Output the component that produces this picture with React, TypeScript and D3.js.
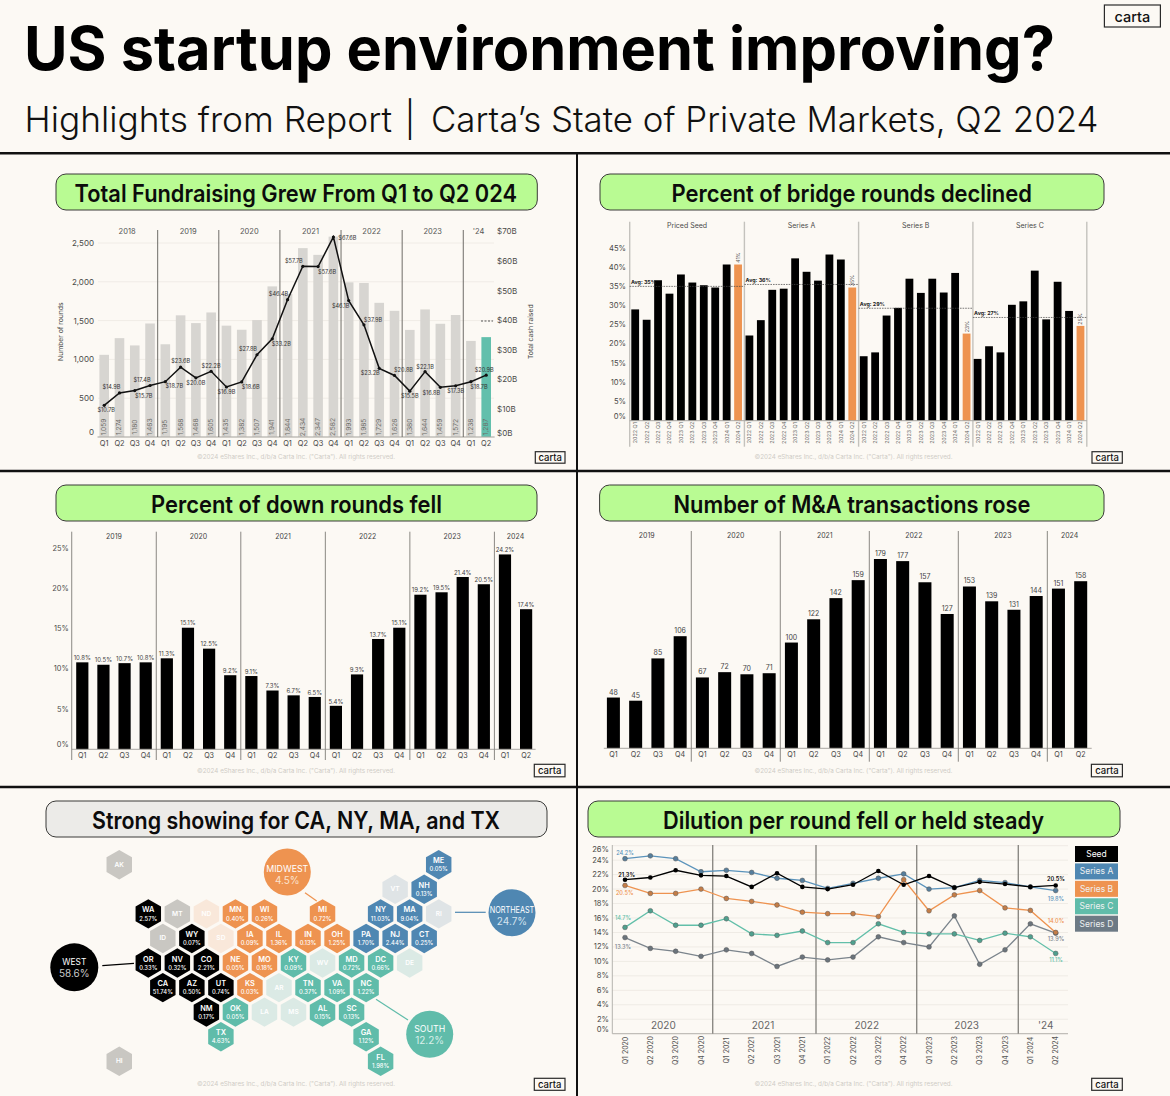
import React from "react";
import * as d3 from "d3";

// ---------- data ----------
const quarters = ["Q1", "Q2", "Q3", "Q4"];
const fundYears = ["2018", "2019", "2020", "2021", "2022", "2023", "'24"];
const fundRounds = [1059, 1274, 1180, 1463, 1195, 1568, 1468, 1605, 1435, 1382, 1507, 1941, 1844, 2434, 2347, 2582, 1993, 1985, 1729, 1626, 1380, 1644, 1459, 1572, 1238, 1287];
const fundCash = [10.7, 14.9, 15.7, 17.4, 18.7, 23.6, 20.0, 22.2, 16.9, 18.6, 27.8, 33.2, 46.4, 57.7, 57.6, 67.6, 46.1, 37.9, 23.2, 20.8, 15.5, 22.1, 16.8, 17.3, 18.7, 20.9];
const fundLeftTicks = [0, 500, 1000, 1500, 2000, 2500];
const fundRightTicks = [0, 10, 20, 30, 40, 50, 60, 70];

const bridgeQuarters = ["2022 Q1", "2022 Q2", "2022 Q3", "2022 Q4", "2023 Q1", "2023 Q2", "2023 Q3", "2023 Q4", "2024 Q1", "2024 Q2"];
const bridgeStages = ["Priced Seed", "Series A", "Series B", "Series C"];
const bridgeSeed = [29, 26.3, 36.6, 33.1, 38.1, 36, 35.3, 34.7, 40.7, 40.7];
const bridgeA = [22.2, 26.2, 34.1, 34.4, 42.3, 38.8, 36.5, 43.3, 42, 34.7];
const bridgeB = [16.8, 17.8, 27.4, 29.4, 37, 33.3, 37, 33.4, 38.5, 22.7];
const bridgeC = [16.1, 19.4, 17.8, 30.2, 31.1, 39.1, 26.4, 36.2, 28.6, 24.7];
const bridgeAvg = [35, 35.5, 29.3, 26.9];
const bridgeAvgLabels = ["Avg: 35%", "Avg: 36%", "Avg: 29%", "Avg: 27%"];
const bridgeLastLabels = ["41%", "35%", "23%", "25%"];
const bridgeTicks = [0, 5, 10, 15, 20, 25, 30, 35, 40, 45];

const panelYears = ["2019", "2020", "2021", "2022", "2023", "2024"];
const downRounds = [10.8, 10.5, 10.7, 10.8, 11.3, 15.1, 12.5, 9.2, 9.1, 7.3, 6.7, 6.5, 5.4, 9.3, 13.7, 15.1, 19.2, 19.5, 21.4, 20.5, 24.2, 17.4];
const downTicks = [0, 5, 10, 15, 20, 25];
const maDeals = [48, 45, 85, 106, 67, 72, 70, 71, 100, 122, 142, 159, 179, 177, 157, 127, 153, 139, 131, 144, 151, 158];

const hexRows = [
  "AK . . . . . . . . . . ME",
  ". . . . . . . . . VT NH",
  ". WA MT ND MN WI . MI . NY MA RI",
  ". ID WY SD IA IL IN OH PA NJ CT",
  ". OR NV CO NE MO KY WV MD DC DE",
  ". CA AZ UT KS AR TN VA NC",
  ". . . NM OK LA MS AL SC",
  ". . . TX . . . . GA",
  "HI . . . . . . . . FL",
];
const westStates = ["WA", "WY", "OR", "NV", "CO", "CA", "AZ", "UT", "NM"];
const midwestStates = ["MN", "WI", "MI", "IA", "IL", "IN", "OH", "NE", "MO", "KS"];
const southStates = ["KY", "MD", "DC", "TN", "VA", "NC", "OK", "AL", "SC", "TX", "GA", "FL"];
const northeastStates = ["ME", "NH", "NY", "MA", "PA", "NJ", "CT"];
const fadedWest = ["MT", "ID", "AK", "HI"];
const fadedMidwest = ["ND", "SD"];
const fadedSouth = ["WV", "DE", "AR", "LA", "MS"];
const fadedNortheast = ["VT", "RI"];
const stateShare: Record<string, string> = {
  WA: "2.57%", WY: "0.07%", OR: "0.33%", NV: "0.32%", CO: "2.21%", CA: "51.74%", AZ: "0.50%", UT: "0.74%", NM: "0.17%",
  MN: "0.40%", WI: "0.26%", MI: "0.72%", IA: "0.09%", IL: "1.36%", IN: "0.13%", OH: "1.25%", NE: "0.05%", MO: "0.18%", KS: "0.03%",
  KY: "0.09%", MD: "0.72%", DC: "0.66%", TN: "0.37%", VA: "1.09%", NC: "1.22%", OK: "0.05%", AL: "0.15%", SC: "0.13%", TX: "4.63%", GA: "1.12%", FL: "1.98%",
  ME: "0.05%", NH: "0.13%", NY: "11.03%", MA: "9.04%", PA: "1.70%", NJ: "2.44%", CT: "0.25%",
};
const regionNames = ["WEST", "MIDWEST", "NORTHEAST", "SOUTH"];
const regionShares = ["58.6%", "4.5%", "24.7%", "12.2%"];

const dilutionQuarters = ["Q1 2020", "Q2 2020", "Q3 2020", "Q4 2020", "Q1 2021", "Q2 2021", "Q3 2021", "Q4 2021", "Q1 2022", "Q2 2022", "Q3 2022", "Q4 2022", "Q1 2023", "Q2 2023", "Q3 2023", "Q4 2023", "Q1 2024", "Q2 2024"];
const dilutionSeed = [21.3, 21.6, 22.6, 21.9, 21.8, 20.3, 22.2, 20.3, 20.0, 20.6, 22.5, 20.6, 21.8, 20.2, 21.0, 20.7, 20.3, 20.5];
const dilutionA = [24.2, 24.6, 24.2, 22.4, 22.6, 22.3, 21.5, 21.2, 20.1, 20.8, 21.5, 22.1, 20.0, 20.2, 21.2, 20.9, 20.3, 19.8];
const dilutionB = [20.5, 19.4, 19.4, 20, 18.7, 18.3, 17.8, 16.8, 16.6, 16.6, 16.2, 21.3, 17, 19.2, 19.8, 17.4, 17.05, 14.0];
const dilutionC = [14.7, 17, 15, 15, 15.9, 13.8, 13.6, 14.2, 12.6, 12.6, 15.2, 14, 13.8, 13.8, 12.9, 13.9, 13.4, 11.1];
const dilutionD = [13.3, 11.8, 11.4, 10.7, 11.6, 11.1, 9.3, 10.6, 10.2, 10.6, 13.4, 12.6, 12, 16.3, 9.6, 11.6, 15.2, 13.9];
const dilutionNames = ["Seed", "Series A", "Series B", "Series C", "Series D"];
const dilutionTicks = d3.range(0, 27, 2);
const dilutionYears = ["2020", "2021", "2022", "2023", "'24"];

// ---------- style ----------
const FONT = "Inter, 'Noto Sans', sans-serif";
const BG = "#fcf9f4";
const GREEN = "#b9fb93";
const ORANGE = "#ee9350";
const TEAL = "#60bcaa";
const BLUE = "#4f87b2";
const SLATE = "#6d7a85";
const LABEL = "#4a4a48";

const T = ({ x, y, s = 8, c = LABEL, w = 400, a = "middle", len, rot, children }: any) => (
  <text
    x={x}
    y={y}
    fontSize={s}
    fill={c}
    fontWeight={w}
    fontFamily={FONT}
    textAnchor={a}
    dominantBaseline="central"
    textLength={len}
    lengthAdjust={len ? "spacingAndGlyphs" : undefined}
    transform={rot ? `rotate(${rot} ${x} ${y})` : undefined}
  >
    {children}
  </text>
);

const Pill = ({ x0, x1, y0, text, fill = GREEN, tx0, tx1 }: any) => (
  <g>
    <rect x={x0} y={y0} width={x1 - x0} height={36} rx={10} fill={fill} stroke="#3a3a38" strokeWidth={1} />
    <T x={tx0} y={y0 + 19} s={24} w={600} c="#0c0c0c" a="start" len={tx1 - tx0}>{text}</T>
  </g>
);

const Logo = ({ x0, x1, y0, h, s = 9.5 }: any) => (
  <g>
    <rect x={x0} y={y0} width={x1 - x0} height={h} fill={BG} stroke="#2a2a2a" strokeWidth={1.2} />
    <T x={(x0 + x1) / 2} y={y0 + h / 2} s={s} c="#111" w={500}>carta</T>
  </g>
);

const Copy = ({ x, y }: any) => (
  <T x={x} y={y} s={6.3} c="#cfccc6">©2024 eShares Inc., d/b/a Carta Inc. ("Carta"). All rights reserved.</T>
);

const VLines = ({ xs, y0, y1, c = "#77756f", w = 1 }: any) => (
  <g>{xs.map((x: number, i: number) => <line key={i} x1={x} x2={x} y1={y0} y2={y1} stroke={c} strokeWidth={w} />)}</g>
);

// ---------- panel 1 ----------
function Fundraising() {
  const idx = fundRounds.map((_, i) => i);
  const x = d3.scaleLinear().domain([0, 25]).range([104.2, 486.2]);
  const yL = d3.scaleLinear().domain([0, 2500]).range([437, 243]);
  const yR = d3.scaleLinear().domain([0, 70]).range([437, 229.9]);
  const line = d3.line<number>().x((i) => x(i)).y((i) => yR(fundCash[i]));
  const offs = [[2, 5], [-8, -5.7], [9, 5.3], [-8, -5.7], [9, 4.7], [0, -5.7], [0, 5], [0, -5], [0, 5], [9, 5], [-9, -5.3], [9, 5], [-9, -5.7], [-9, -5.3], [9, 5], [14, 1], [-8, 5.7], [9, -5], [-9, 5], [9, -5.3], [0, 5], [0, -5], [-9, 5.3], [0, 4.7], [8, 5], [-2, -5.3]];
  const seps = [3.5, 7.5, 11.5, 15.5, 19.5, 23.5].map((i) => x(i));
  const yearCenters = [1.5, 5.5, 9.5, 13.5, 17.5, 21.5, 24.5].map((i) => x(i));
  return (
    <g>
      <Pill x0={56} x1={537.3} y0={174} text="Total Fundraising Grew From Q1 to Q2 024" tx0={74.6} tx1={517} />
      {fundLeftTicks.map((t) => <line key={t} x1={98} x2={494} y1={yL(t)} y2={yL(t)} stroke="#f0ece6" />)}
      {idx.map((i) => (
        <rect key={i} x={x(i) - 4.8} width={9.6} y={yL(fundRounds[i])} height={yL(0) - yL(fundRounds[i])} fill={i === 25 ? "#62bfac" : "#d7d5d1"} />
      ))}
      {idx.map((i) => <T key={i} x={x(i)} y={427} s={6.6} c="#6d6c68" rot={-90}>{d3.format(",")(fundRounds[i])}</T>)}
      <line x1={97.5} x2={494.7} y1={437} y2={437} stroke="#a9a7a2" strokeWidth={1} />
      <VLines xs={seps} y0={230} y1={437} c="#6f6d68" w={1} />
      {fundLeftTicks.map((t) => <T key={t} x={94} y={t === 0 ? 432 : yL(t)} s={8} a="end">{d3.format(",")(t)}</T>)}
      {fundRightTicks.map((t) => <T key={t} x={497} y={t === 0 ? 432.5 : yR(t) + 1.5} s={8} a="start">{`$${t}B`}</T>)}
      {fundYears.map((l, i) => <T key={l} x={yearCenters[i]} y={231} s={7.5} c="#555">{l}</T>)}
      <T x={61} y={331.7} s={6.8} rot={-90}>Number of rounds</T>
      <T x={531} y={331.7} s={6.8} rot={-90}>Total cash raised</T>
      <line x1={481} x2={493} y1={321} y2={321} stroke="#555" strokeWidth={1.2} strokeDasharray="2 1.5" />
      <path d={line(idx) ?? ""} fill="none" stroke="#111" strokeWidth={1.5} />
      {idx.map((i) => <circle key={i} cx={x(i)} cy={yR(fundCash[i])} r={1.6} fill="#111" />)}
      {idx.map((i) => (
        <T key={i} x={x(i) + offs[i][0]} y={yR(fundCash[i]) + offs[i][1]} s={5.6} c="#333">{`$${fundCash[i].toFixed(1)}B`}</T>
      ))}
      {idx.map((i) => <T key={i} x={x(i)} y={443.5} s={7.4} c="#444">{quarters[i % 4]}</T>)}
      <Copy x={296} y={457.3} />
      <Logo x0={535.3} x1={565} y0={451.7} h={11.5} />
    </g>
  );
}

// ---------- panel 2 ----------
function Bridge() {
  const groups = [bridgeSeed, bridgeA, bridgeB, bridgeC];
  const y = d3.scaleLinear().domain([0, 45]).range([420.7, 248]);
  const step = 11.43;
  const starts = [635.2, 749.4, 863.7, 977.6];
  const seps = [629.7, 744.4, 858.6, 972.9, 1086.8];
  return (
    <g>
      <Pill x0={600} x1={1104} y0={174} text="Percent of bridge rounds declined" tx0={671.6} tx1={1032} />
      <VLines xs={seps} y0={221.7} y1={446.7} c="#c4c2bd" w={1.4} />
      {bridgeTicks.map((t) => <T key={t} x={626} y={t === 0 ? 416 : y(t)} s={7.6} a="end">{t + "%"}</T>)}
      {bridgeStages.map((l, i) => <T key={l} x={(seps[i] + seps[i + 1]) / 2} y={225.7} s={7}>{l}</T>)}
      {groups.map((vals, g) => (
        <g key={g}>
          {vals.map((v, i) => (
            <rect key={i} x={starts[g] + i * step - 3.9} width={7.8} y={y(v)} height={y(0) - y(v)} fill={i === 9 ? ORANGE : "#000"} />
          ))}
          {bridgeQuarters.map((q, i) => <T key={q} x={starts[g] + i * step} y={432.7} s={5.4} c="#666" rot={-90}>{q}</T>)}
          <line x1={seps[g]} x2={seps[g + 1]} y1={y(bridgeAvg[g])} y2={y(bridgeAvg[g])} stroke="#444" strokeWidth={0.7} strokeDasharray="1.6 1" />
          <T x={seps[g] + 1.2} y={y(bridgeAvg[g]) - 4} s={5.3} c="#222" w={700} a="start">{bridgeAvgLabels[g]}</T>
          <T x={starts[g] + 9 * step} y={y(vals[9]) - 7} s={5.2} c="#555" rot={-90}>{bridgeLastLabels[g]}</T>
        </g>
      ))}
      <line x1={629.7} x2={1086.8} y1={420.7} y2={420.7} stroke="#aaa8a3" strokeWidth={1} />
      <Copy x={853.5} y={457.3} />
      <Logo x0={1092} x1={1122.3} y0={451.7} h={11.5} />
    </g>
  );
}

// ---------- panel 3 ----------
function DownRounds() {
  const x = d3.scaleLinear().domain([0, 21]).range([82.3, 526.1]);
  const y = d3.scaleLinear().domain([0, 25]).range([749.3, 548]);
  const seps = [-0.5, 3.5, 7.5, 11.5, 15.5, 19.5].map((i) => x(i));
  const centers = [1.5, 5.5, 9.5, 13.5, 17.5, 20.5].map((i) => x(i));
  return (
    <g>
      <Pill x0={56} x1={537} y0={485} text="Percent of down rounds fell" tx0={151} tx1={442} />
      {downRounds.map((v, i) => (
        <g key={i}>
          <rect x={x(i) - 6.1} width={12.2} y={y(v)} height={y(0) - y(v)} fill="#000" />
          <T x={x(i)} y={y(v) - 4.8} s={6} c="#444">{v.toFixed(1) + "%"}</T>
          <T x={x(i)} y={755.7} s={7.2} c="#444">{quarters[i % 4]}</T>
        </g>
      ))}
      <line x1={72} x2={535.6} y1={749.3} y2={749.3} stroke="#a9a7a2" />
      <VLines xs={seps} y0={531.7} y1={760} c="#8a8883" w={1} />
      {downTicks.map((t) => <T key={t} x={68.7} y={t === 0 ? 744.3 : y(t)} s={7.4} a="end">{t + "%"}</T>)}
      {panelYears.map((l, i) => <T key={l} x={centers[i]} y={536} s={7} c="#444">{l}</T>)}
      <Copy x={296} y={771} />
      <Logo x0={534.3} x1={565} y0={764.3} h={12.5} />
    </g>
  );
}

// ---------- panel 4 ----------
function Deals() {
  const x = d3.scaleLinear().domain([0, 21]).range([613.4, 1080.7]);
  const y = d3.scaleLinear().domain([0, 179]).range([748.3, 559]);
  const seps = [3.5, 7.5, 11.5, 15.5, 19.5].map((i) => x(i));
  const centers = [1.5, 5.5, 9.5, 13.5, 17.5, 20.5].map((i) => x(i));
  return (
    <g>
      <Pill x0={599.6} x1={1104} y0={485} text="Number of M&A transactions rose" tx0={673.5} tx1={1030.5} />
      {maDeals.map((v, i) => (
        <g key={i}>
          <rect x={x(i) - 6.5} width={13} y={y(v)} height={y(0) - y(v)} fill="#000" />
          <T x={x(i)} y={y(v) - 5.5} s={7} c="#444">{v}</T>
          <T x={x(i)} y={754.8} s={7.2} c="#444">{quarters[i % 4]}</T>
        </g>
      ))}
      <line x1={603.8} x2={1091.7} y1={748.3} y2={748.3} stroke="#a9a7a2" />
      <VLines xs={seps} y0={531} y1={761.7} c="#8a8883" w={1} />
      {panelYears.map((l, i) => <T key={l} x={centers[i]} y={535.3} s={7} c="#444">{l}</T>)}
      <Copy x={853.4} y={771} />
      <Logo x0={1091.4} x1={1122.4} y0={764.3} h={12.5} />
    </g>
  );
}

// ---------- panel 5 ----------
const hexPath = (cx: number, cy: number, R: number) =>
  (d3.line()(d3.range(6).map((k) => {
    const a = (Math.PI / 3) * k;
    return [cx + R * Math.sin(a), cy - R * Math.cos(a)] as [number, number];
  })) ?? "") + "Z";

function Hexes() {
  const qx = d3.scaleLinear().domain([0, 20]).range([148.3, 438.7]);
  const ry = d3.scaleLinear().domain([0, 8]).range([864.7, 1061.3]);
  const fill = (s: string) => {
    if (westStates.includes(s)) return "#000";
    if (midwestStates.includes(s)) return ORANGE;
    if (southStates.includes(s)) return TEAL;
    if (northeastStates.includes(s)) return BLUE;
    if (fadedWest.includes(s)) return "#c9c7c2";
    if (fadedMidwest.includes(s)) return "#f9e8da";
    if (fadedSouth.includes(s)) return "#dbeae5";
    if (fadedNortheast.includes(s)) return "#dfe4e6";
    return "#ccc";
  };
  const cells = hexRows.flatMap((row, r) =>
    row.split(" ").flatMap((s, i) => (s === "." ? [] : [{ s, q: (r % 2 === 0 ? -2 : -1) + 2 * i, r }]))
  );
  const regionPos = [[74.3, 967.3, 24], [287.3, 872, 23.5], [512, 912.7, 23.5], [429.7, 1034.3, 23.5]];
  const regionFill = ["#000", ORANGE, BLUE, TEAL];
  const regionVal = ["#c9c9c9", "#fbe3cf", "#d5e4ef", "#d7efe9"];
  const regionNameDy = [-5.6, -3.7, -3, -5.6];
  const regionValDy = [6, 8, 8, 6];
  const regionNameLen = [24, 42, 44.5, 31];
  const links = [[102.3, 965.7, 134, 963.3], [305, 892.7, 316.7, 901], [455, 912.3, 485.7, 912.3], [376, 999.3, 408, 1020]];
  return (
    <g>
      <Pill x0={46} x1={547} y0={801} text="Strong showing for CA, NY, MA, and TX" fill="#ecebe8" tx0={92} tx1={500} />
      {links.map((l, i) => <line key={i} x1={l[0]} y1={l[1]} x2={l[2]} y2={l[3]} stroke={regionFill[i]} strokeWidth={1.2} />)}
      {cells.map(({ s, q, r }) => {
        const cx = qx(q), cy = ry(r);
        const hasVal = stateShare[s] !== undefined;
        return (
          <g key={s}>
            <path d={hexPath(cx, cy, 14.7)} fill={fill(s)} />
            <T x={cx} y={hasVal ? cy - 4 : cy} s={hasVal ? 7.4 : 6.6} c="#fff" w={600}>{s}</T>
            {hasVal && <T x={cx} y={cy + 4.2} s={5.8} c="#fff" w={500}>{stateShare[s]}</T>}
          </g>
        );
      })}
      {regionNames.map((n, i) => (
        <g key={n}>
          <circle cx={regionPos[i][0]} cy={regionPos[i][1]} r={regionPos[i][2]} fill={regionFill[i]} />
          <T x={regionPos[i][0]} y={regionPos[i][1] + regionNameDy[i]} s={9} c="#fff" len={regionNameLen[i]}>{n}</T>
          <T x={regionPos[i][0]} y={regionPos[i][1] + regionValDy[i]} s={10} c={regionVal[i]}>{regionShares[i]}</T>
        </g>
      ))}
      <Copy x={296} y={1084.3} />
      <Logo x0={534.3} x1={565} y0={1078.3} h={12} />
    </g>
  );
}

// ---------- panel 6 ----------
function Dilution() {
  const series = [dilutionSeed, dilutionA, dilutionB, dilutionC, dilutionD];
  const colors = ["#000", "#5b93bb", ORANGE, "#62bfa9", "#7b848c"];
  const dots = ["#000", "#567e9c", "#c47d47", "#4fa08e", "#6b747c"];
  const legendFill = ["#000", BLUE, ORANGE, TEAL, SLATE];
  const x = d3.scalePoint<string>().domain(dilutionQuarters).range([625, 1055.7]);
  const y = d3.scaleLinear().domain([0, 26]).range([1033.7, 845.7]);
  const seps = [712.7, 816, 916.7, 1018.3];
  const yearX = [663.3, 763, 866.7, 966.7, 1045.7];
  const firstLabels = [[0, 875, 1.7], [1, 852.7, 0], [2, 892.7, -0.3], [3, 917.7, -2], [4, 946.7, -2]];
  const lastLabels = [[0, 879.3], [1, 898.7], [2, 920.7], [3, 959.7], [4, 939]];
  const lineOf = (vals: number[]) =>
    d3.line<string>().x((q) => x(q) as number).y((q) => y(vals[dilutionQuarters.indexOf(q)]))(dilutionQuarters) ?? "";
  const legendY = d3.scaleLinear().domain([0, 4]).range([846, 915.7]);
  return (
    <g>
      <Pill x0={588} x1={1120} y0={801} text="Dilution per round fell or held steady" tx0={663} tx1={1044} />
      {dilutionTicks.map((t) => <line key={t} x1={612.3} x2={1068} y1={y(t)} y2={y(t)} stroke="#efebe5" />)}
      <line x1={612.3} x2={612.3} y1={845} y2={1033.7} stroke="#b5b3ae" />
      <line x1={612.3} x2={1068} y1={1033.7} y2={1033.7} stroke="#b5b3ae" />
      <VLines xs={seps} y0={845} y1={1033.7} c="#8c8a85" w={1.4} />
      {dilutionTicks.map((t) => (
        <T key={t} x={609} y={t === 0 ? 1029 : t === 26 ? 849.3 : y(t)} s={7.6} a="end">{t + "%"}</T>
      ))}
      {[4, 3, 2, 1, 0].map((k) => (
        <g key={k}>
          <path d={lineOf(series[k])} fill="none" stroke={colors[k]} strokeWidth={1.3} />
          {dilutionQuarters.map((q, i) => (
            <circle key={q} cx={x(q)} cy={y(series[k][i])} r={k === 0 ? 2.3 : 2.4} fill={dots[k]} stroke={k === 0 ? "none" : "#555"} strokeWidth={0.5} />
          ))}
        </g>
      ))}
      {firstLabels.map(([k, ly, dx]) => (
        <T key={k} x={625 + dx} y={ly} s={5.6} c={colors[k]} w={k === 0 ? 600 : 500}>{series[k][0].toFixed(1) + "%"}</T>
      ))}
      {lastLabels.map(([k, ly]) => (
        <T key={k} x={1056} y={ly} s={5.6} c={colors[k]} w={k === 0 ? 600 : 500}>{series[k][17].toFixed(1) + "%"}</T>
      ))}
      {dilutionYears.map((l, i) => <T key={l} x={yearX[i]} y={1025} s={10} c="#666">{l}</T>)}
      {dilutionQuarters.map((q) => <T key={q} x={x(q) as number} y={1050.5} s={7} c="#555" rot={-90}>{q}</T>)}
      {dilutionNames.map((n, i) => (
        <g key={n}>
          <rect x={1075} y={legendY(i)} width={43} height={16} fill={legendFill[i]} />
          <T x={1096.5} y={legendY(i) + 8} s={8.5} c={i === 0 ? "#fff" : "#eef0f0"}>{n}</T>
        </g>
      ))}
      <Copy x={853.5} y={1084.3} />
      <Logo x0={1091.7} x1={1122.3} y0={1078.3} h={12} />
    </g>
  );
}

export default function App() {
  return (
    <svg width={1170} height={1096} viewBox="0 0 1170 1096" style={{ position: "absolute", left: 0, top: 0, display: "block" }}>
      <rect width={1170} height={1096} fill={BG} />
      <T x={24} y={48} s={60} w={700} c="#000" a="start" len={1031}>US startup environment improving?</T>
      <T x={24.6} y={119} s={35} w={300} c="#111" a="start" len={367.4}>Highlights from Report</T>
      <T x={410} y={119} s={35} w={300} c="#111">|</T>
      <T x={431} y={119} s={35} w={300} c="#111" a="start" len={667.5}>Carta’s State of Private Markets, Q2 2024</T>
      <Logo x0={1104.4} x1={1160.4} y0={5} h={22} s={14.5} />
      <line x1={0} x2={1170} y1={153.3} y2={153.3} stroke="#111" strokeWidth={2.6} />
      <line x1={0} x2={1170} y1={471} y2={471} stroke="#111" strokeWidth={2.4} />
      <line x1={0} x2={1170} y1={787} y2={787} stroke="#111" strokeWidth={2.4} />
      <line x1={577} x2={577} y1={153} y2={1096} stroke="#111" strokeWidth={2} />
      <Fundraising />
      <Bridge />
      <DownRounds />
      <Deals />
      <Hexes />
      <Dilution />
    </svg>
  );
}
